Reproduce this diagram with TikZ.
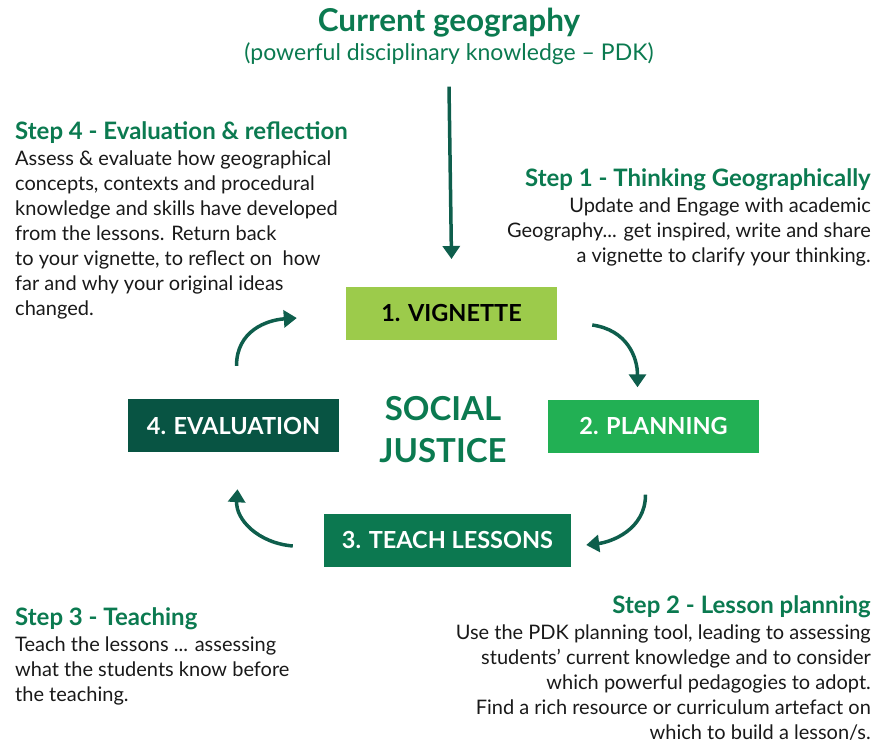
\documentclass[tikz,border=0pt]{standalone}
\usepackage{fontspec}
\setmainfont{Lato}
\usetikzlibrary{arrows.meta,calc}
\definecolor{geogreen}{RGB}{11,122,80}
\definecolor{vigfill}{RGB}{156,203,75}
\definecolor{planfill}{RGB}{34,176,84}
\definecolor{teachfill}{RGB}{12,120,80}
\definecolor{evalfill}{RGB}{8,84,67}
\definecolor{arrowgreen}{RGB}{14,94,76}
\definecolor{bodyblack}{RGB}{25,25,25}

\begin{document}
\begin{tikzpicture}[x=1pt,y=-1pt,
  stagebox/.style={minimum width=211pt,minimum height=53pt,inner sep=0pt,
    font=\fontsize{23.5}{26}\selectfont\bfseries},
  stephead/.style={inner sep=0pt,text=geogreen,font=\fontsize{24}{28}\selectfont\bfseries},
  stepbody/.style={inner sep=0pt,text=bodyblack,font=\fontsize{20}{25}\selectfont},
  cycarrow/.style={arrowgreen,line width=3.5pt,-{Triangle[length=13pt,width=17pt]}}]
\useasboundingbox (0,0) rectangle (875,747);

% Title
\node[text=geogreen,font=\fontsize{31.5}{36}\selectfont\bfseries] (title) at (449,23) {Current geography};
\node[text=geogreen,font=\fontsize{23}{27}\selectfont] (subtitle) at (449,54) {(powerful disciplinary knowledge -- PDK)};

% Cycle boxes
\node[stagebox,fill=vigfill,text=black] (vignette) at (451.5,313) {1. VIGNETTE};
\node[stagebox,fill=planfill,text=white] (planning) at (653.5,426) {2. PLANNING};
\node[stagebox,fill=teachfill,text=white,minimum width=247pt] (teach) at (447.5,540) {3. TEACH LESSONS};
\node[stagebox,fill=evalfill,text=white] (evaluation) at (233.5,425.5) {4. EVALUATION};
\node[text=geogreen,align=center,font=\fontsize{33}{42}\selectfont\bfseries] (justice) at (443,430) {SOCIAL\\JUSTICE};

% Arrows
\draw[cycarrow] (subtitle.south) ++(0,18) coordinate (top) -- (vignette.north |- 0,259);
\coordinate (a1) at ($(vignette.east)+(35,12)$);
\coordinate (b1) at ($(planning.north)+(-16,-12)$);
\draw[cycarrow] (a1) .. controls +(35,5) and +(0,-30) .. (b1);
\coordinate (a2) at ($(planning.south)+(-8,42)$);
\coordinate (b2) at ($(teach.east)+(15,5)$);
\draw[cycarrow] (a2) .. controls +(0,35) and +(25,-3) .. (b2);
\coordinate (a3) at ($(teach.west)+(-31,6)$);
\coordinate (b3) at ($(evaluation.south)+(4,37)$);
\draw[cycarrow] (a3) .. controls +(-35,-3) and +(-2,30) .. (b3);
\coordinate (a4) at ($(evaluation.north)+(3,-33)$);
\coordinate (b4) at ($(vignette.west)+(-49,5)$);
\draw[cycarrow] (a4) .. controls +(0,-35) and +(-30,2) .. (b4);

% Step texts
\node[stephead,anchor=west] (s4head) at (15,133) {Step 4 - Evaluation \& reflection};
\node[stepbody,anchor=north west,align=left] (s4body) at (15,151) {Assess \& evaluate how geographical\\concepts, contexts and procedural\\knowledge and skills have developed\\from the lessons. Return back\\to your vignette, to reflect on\ \ how\\far and why your original ideas\\changed.};

\node[stephead,anchor=east] (s1head) at (871,180) {Step 1 - Thinking Geographically};
\node[stepbody,anchor=north east,align=right] (s1body) at (871,198) {Update and Engage with academic\\Geography... get inspired, write and share\\a vignette to clarify your thinking.};

\node[stephead,anchor=west] (s3head) at (15,619) {Step 3 - Teaching};
\node[stepbody,anchor=north west,align=left] (s3body) at (15,637) {Teach the lessons ... assessing\\what the students know before\\the teaching.};

\node[stephead,anchor=east] (s2head) at (871,607) {Step 2 - Lesson planning};
\node[stepbody,anchor=north east,align=right] (s2body) at (871,625) {Use the PDK planning tool, leading to assessing\\students’ current knowledge and to consider\\which powerful pedagogies to adopt.\\Find a rich resource or curriculum artefact on\\which to build a lesson/s.};
\end{tikzpicture}
\end{document}
